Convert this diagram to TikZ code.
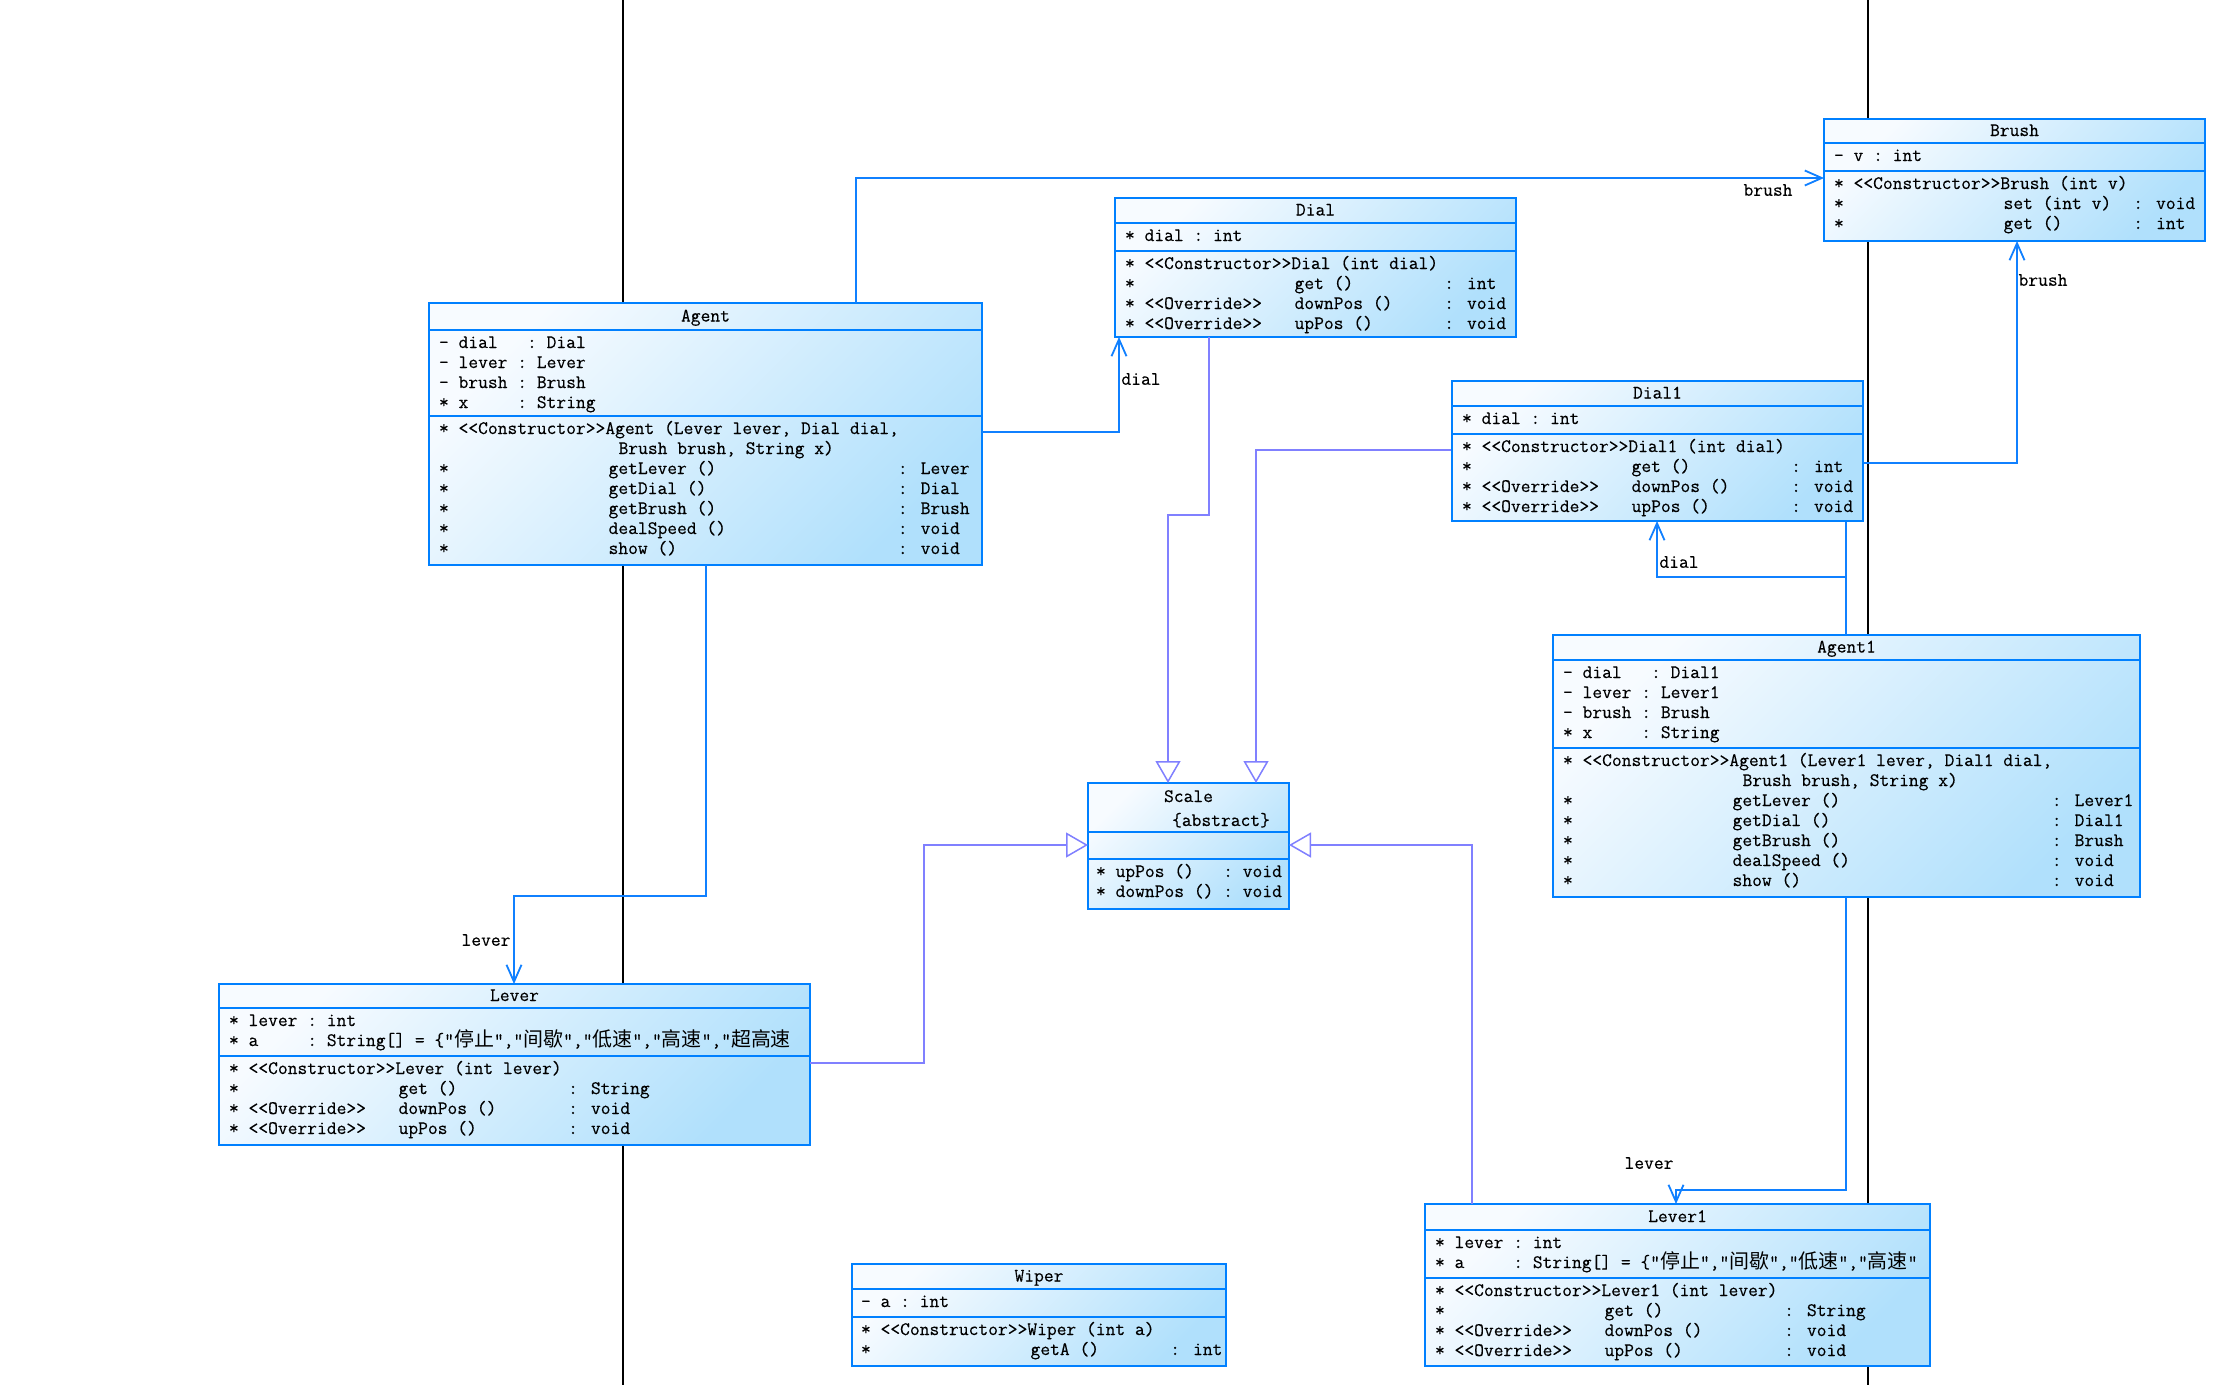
\documentclass[tikz,border=0pt]{standalone}
\usepackage{fontspec}
\newfontfamily\cjk{Noto Sans CJK SC}
\newfontfamily\monof{Latin Modern Mono}[FakeBold=0.35]
\usetikzlibrary{arrows.meta}
\definecolor{clight}{RGB}{247,251,255}
\definecolor{cdark}{RGB}{176,224,252}
\definecolor{cborder}{RGB}{0,128,255}
\definecolor{cassoc}{RGB}{16,128,255}
\definecolor{cinh}{RGB}{128,128,255}
\newcommand\mf{\monof\fontsize{19}{20}\selectfont}
\newcommand\ch[1]{{\cjk\fontsize{19.95}{20}\selectfont #1}}
\newcommand\st[1]{<{}<#1>{}>}
\newcount\tcnt
\def\xo{0}
\newcommand\cl[3]{\global\advance\tcnt by 1\relax\edef\tn{t\the\tcnt}%
  \node[txt] (\tn) at ({\xo+#1*9.975},#2) {#3};}
\newcommand\hd[3]{\global\advance\tcnt by 1\relax\edef\tn{t\the\tcnt}%
  \node[hdr] (\tn) at (#1,#2) {#3};}
\newcommand\umlc[7]{%
  \node[cls, minimum width={(#4-#2)*1pt}, minimum height={(#5-#3)*1pt}] (#1) at (#2,#3) {};
  \draw[bline] (#2,#6) -- (#4,#6);
  \draw[bline] (#2,#7) -- (#4,#7);}
\begin{document}
\begin{tikzpicture}[x=1pt,y=-1pt,
  txt/.style={anchor=base west, inner sep=0pt, outer sep=0pt, font=\mf, text=black},
  hdr/.style={txt, anchor=base},
  cls/.style={draw=cborder, line width=2.2pt, top color=clight, bottom color=cdark, shading angle=45, inner sep=0pt, outer sep=0pt, anchor=north west},
  bline/.style={draw=cborder, line width=2.2pt},
  assoc/.style={draw=cassoc, line width=1.8pt, -{Straight Barb[length=17pt,width=15pt]}},
  inh/.style={draw=cinh, line width=1.5pt, -{Triangle[open,length=22pt,width=25pt]}},
  blackline/.style={draw=black, line width=2pt},
  lbl/.style={inner sep=0pt, font=\mf, text=black}]
\fill[white] (0,0) rectangle (2215,1385);
\useasboundingbox (0,0) rectangle (2215,1385);
% background vertical lines
\coordinate (v1t) at (623,0); \coordinate (v1b) at (623,1385);
\coordinate (v2t) at (1868,0); \coordinate (v2b) at (1868,1385);
\draw[blackline] (v1t) -- (v1b);
\draw[blackline] (v2t) -- (v2b);
% class boxes
\umlc{brush}{1824}{119}{2205}{241}{143}{171}
\umlc{dial}{1115}{198}{1516}{337}{223}{251}
\umlc{agent}{429}{303}{982}{565}{330}{416}
\umlc{dial1}{1452}{381}{1863}{521}{406}{434}
\umlc{agent1}{1553}{635}{2140}{897}{660}{748}
\umlc{scale}{1088}{783}{1289}{909}{832}{859}
\umlc{lever}{219}{984}{810}{1145}{1008}{1056}
\umlc{wiper}{852}{1264}{1226}{1366}{1289}{1317}
\umlc{lever1}{1425}{1204}{1930}{1366}{1230}{1278}
% connectors
\coordinate (b1) at (856,178);
\draw[assoc] (agent.north -| b1) |- (brush.west |- b1);
\coordinate (b2) at (1119,432);
\draw[assoc] (agent.east |- b2) -| (dial.south -| b2);
\coordinate (b3a) at (706,896); \coordinate (b3b) at (514,896);
\draw[assoc] (agent.south -| b3a) -- (b3a) -- (b3b) -- (lever.north -| b3b);
\coordinate (b4a) at (1209,515); \coordinate (b4b) at (1168,515);
\draw[inh] (dial.south -| b4a) -- (b4a) -- (b4b) -- (scale.north -| b4b);
\coordinate (b5) at (1256,450);
\draw[inh] (dial1.west |- b5) -| (scale.north -| b5);
\coordinate (b6a) at (924,1063); \coordinate (b6b) at (924,845);
\draw[inh] (lever.east |- b6a) -- (b6a) -- (b6b) -- (scale.west |- b6b);
\coordinate (b7) at (1472,845);
\draw[inh] (lever1.north -| b7) |- (scale.east |- b7);
\coordinate (b8a) at (1846,463); \coordinate (b8b) at (2017,463);
\draw[assoc] (agent1.north -| b8a) -- (b8a) -- (b8b) -- (brush.south -| b8b);
\coordinate (b9a) at (1846,1190); \coordinate (b9b) at (1676,1190);
\draw[assoc] (agent1.south -| b9a) -- (b9a) -- (b9b) -- (lever1.north -| b9b);
\coordinate (b10a) at (1846,577); \coordinate (b10b) at (1657,577);
\draw[assoc] (agent1.north -| b10a) -- (b10a) -- (b10b) -- (dial1.south -| b10b);
% redraw Dial1 over the Agent1->Brush line that runs behind it
\umlc{dial1b}{1452}{381}{1863}{521}{406}{434}
% ---------- texts ----------
% Brush
\def\xo{1834}
\hd{2014.5}{136}{Brush}
\cl{0}{161}{-~v~:~int}
\cl{0}{189}{*~\st{Constructor}Brush (int v)}
\cl{0}{209}{*}\cl{17}{209}{set (int v)}\cl{30}{209}{: void}
\cl{0}{229}{*}\cl{17}{229}{get ()}\cl{30}{229}{: int}
% Dial
\def\xo{1125}
\hd{1315.5}{215.5}{Dial}
\cl{0}{241}{*~dial~:~int}
\cl{0}{269}{*~\st{Constructor}Dial (int dial)}
\cl{0}{289}{*}\cl{17}{289}{get ()}\cl{32}{289}{: int}
\cl{0}{309}{*~\st{Override}}\cl{17}{309}{downPos ()}\cl{32}{309}{: void}
\cl{0}{329}{*~\st{Override}}\cl{17}{329}{upPos ()}\cl{32}{329}{: void}
% Agent
\def\xo{439}
\hd{705.5}{321.5}{Agent}
\cl{0}{348}{-~dial~~~:~Dial}
\cl{0}{368}{-~lever~:~Lever}
\cl{0}{388}{-~brush~:~Brush}
\cl{0}{408}{*~x~~~~~:~String}
\cl{0}{434}{*~\st{Constructor}Agent (Lever lever, Dial dial,}
\cl{18}{454}{Brush brush, String x)}
\cl{0}{474}{*}\cl{17}{474}{getLever ()}\cl{46}{474}{: Lever}
\cl{0}{494}{*}\cl{17}{494}{getDial ()}\cl{46}{494}{: Dial}
\cl{0}{514}{*}\cl{17}{514}{getBrush ()}\cl{46}{514}{: Brush}
\cl{0}{534}{*}\cl{17}{534}{dealSpeed ()}\cl{46}{534}{: void}
\cl{0}{554}{*}\cl{17}{554}{show ()}\cl{46}{554}{: void}
% Dial1
\def\xo{1462}
\hd{1657.5}{398.5}{Dial1}
\cl{0}{424}{*~dial~:~int}
\cl{0}{452}{*~\st{Constructor}Dial1 (int dial)}
\cl{0}{472}{*}\cl{17}{472}{get ()}\cl{33}{472}{: int}
\cl{0}{492}{*~\st{Override}}\cl{17}{492}{downPos ()}\cl{33}{492}{: void}
\cl{0}{512}{*~\st{Override}}\cl{17}{512}{upPos ()}\cl{33}{512}{: void}
% Agent1
\def\xo{1563}
\hd{1846.5}{652.5}{Agent1}
\cl{0}{678}{-~dial~~~:~Dial1}
\cl{0}{698}{-~lever~:~Lever1}
\cl{0}{718}{-~brush~:~Brush}
\cl{0}{738}{*~x~~~~~:~String}
\cl{0}{766}{*~\st{Constructor}Agent1 (Lever1 lever, Dial1 dial,}
\cl{18}{786}{Brush brush, String x)}
\cl{0}{806}{*}\cl{17}{806}{getLever ()}\cl{49}{806}{: Lever1}
\cl{0}{826}{*}\cl{17}{826}{getDial ()}\cl{49}{826}{: Dial1}
\cl{0}{846}{*}\cl{17}{846}{getBrush ()}\cl{49}{846}{: Brush}
\cl{0}{866}{*}\cl{17}{866}{dealSpeed ()}\cl{49}{866}{: void}
\cl{0}{886}{*}\cl{17}{886}{show ()}\cl{49}{886}{: void}
% Scale
\def\xo{1096}
\hd{1188.5}{802}{Scale}
\hd{1221}{826}{\{abstract\}}
\cl{0}{877}{*~upPos~()~~~:~void}
\cl{0}{897}{*~downPos~()~:~void}
% Lever
\def\xo{229}
\hd{514.5}{1001}{Lever}
\cl{0}{1026}{*~lever~:~int}
\cl{0}{1046}{*~a~~~~~:~String[] = \{"\ch{停止}","\ch{间歇}","\ch{低速}","\ch{高速}","\ch{超高速}}
\cl{0}{1074}{*~\st{Constructor}Lever (int lever)}
\cl{0}{1094}{*}\cl{17}{1094}{get ()}\cl{34}{1094}{: String}
\cl{0}{1114}{*~\st{Override}}\cl{17}{1114}{downPos ()}\cl{34}{1114}{: void}
\cl{0}{1134}{*~\st{Override}}\cl{17}{1134}{upPos ()}\cl{34}{1134}{: void}
% Wiper
\def\xo{861}
\hd{1039}{1281.5}{Wiper}
\cl{0}{1307}{-~a~:~int}
\cl{0}{1335}{*~\st{Constructor}Wiper (int a)}
\cl{0}{1355}{*}\cl{17}{1355}{getA ()}\cl{31}{1355}{: int}
% Lever1
\def\xo{1435}
\hd{1677.5}{1222}{Lever1}
\cl{0}{1248}{*~lever~:~int}
\cl{0}{1268}{*~a~~~~~:~String[] = \{"\ch{停止}","\ch{间歇}","\ch{低速}","\ch{高速}"}
\cl{0}{1296}{*~\st{Constructor}Lever1 (int lever)}
\cl{0}{1316}{*}\cl{17}{1316}{get ()}\cl{35}{1316}{: String}
\cl{0}{1336}{*~\st{Override}}\cl{17}{1336}{downPos ()}\cl{35}{1336}{: void}
\cl{0}{1356}{*~\st{Override}}\cl{17}{1356}{upPos ()}\cl{35}{1356}{: void}
% role labels
\node[lbl] (l1) at (1768,190) {brush};
\node[lbl] (l2) at (1141,379) {dial};
\node[lbl] (l3) at (486,940) {lever};
\node[lbl] (l4) at (2043,280) {brush};
\node[lbl] (l5) at (1679,562) {dial};
\node[lbl] (l6) at (1649,1163) {lever};
\end{tikzpicture}
\end{document}
